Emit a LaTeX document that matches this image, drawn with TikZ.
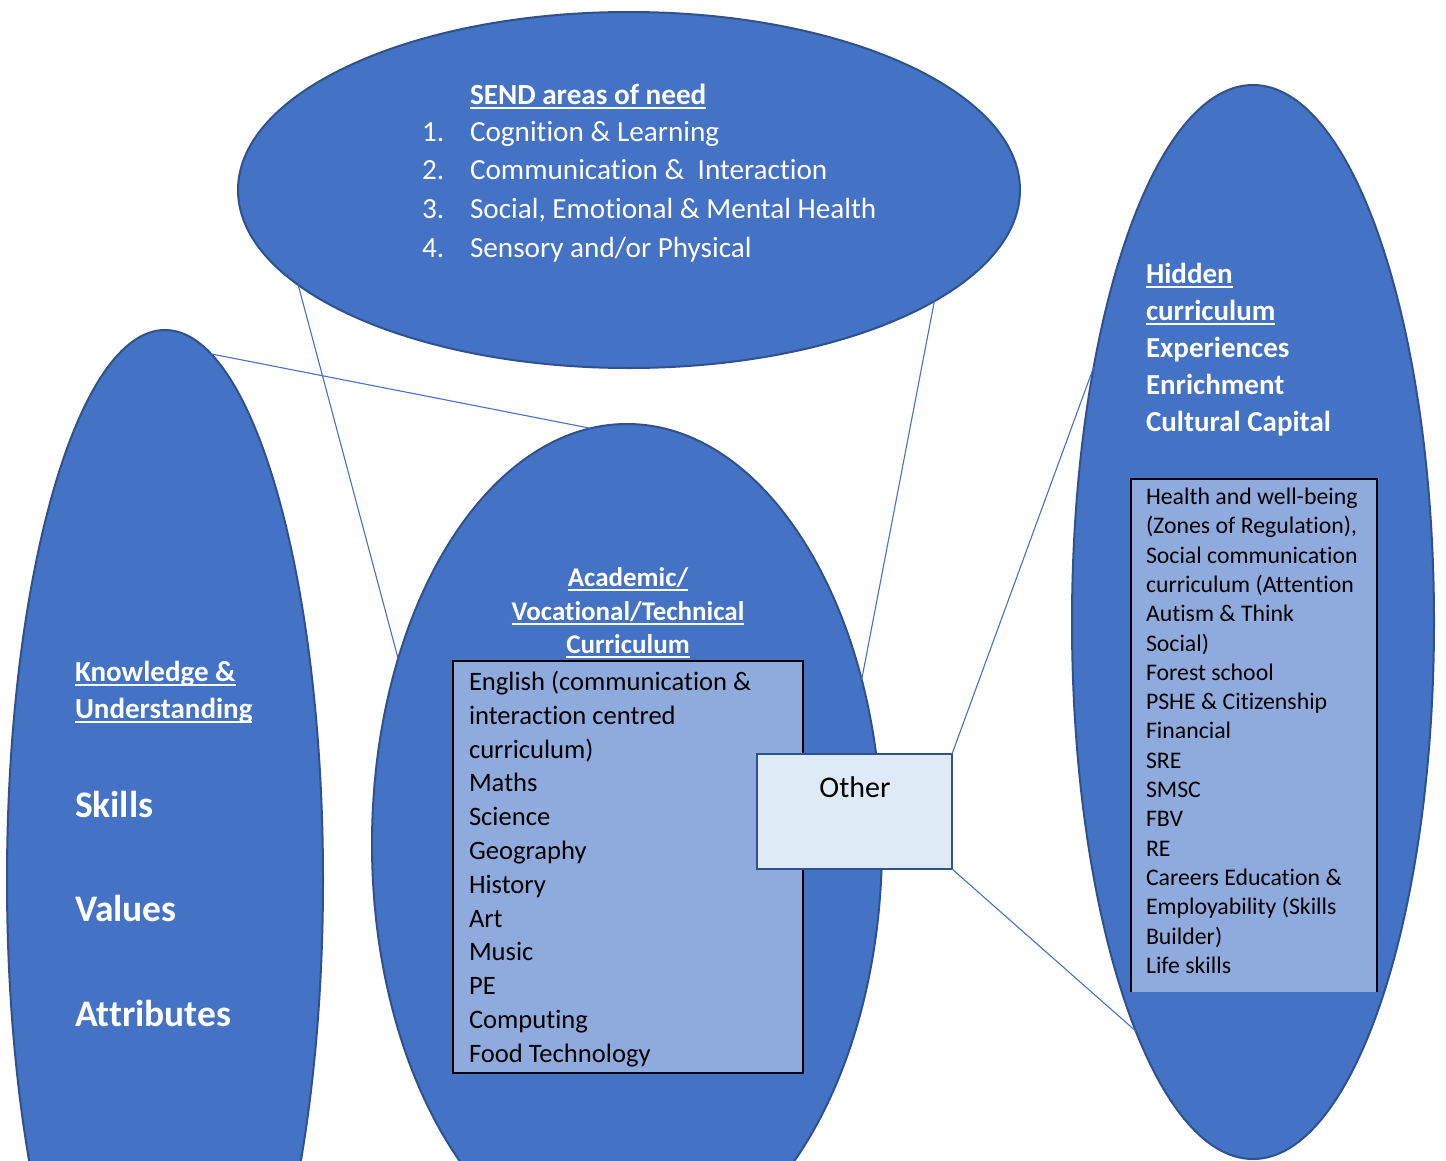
\documentclass[tikz,border=0pt]{standalone}
\usepackage{fontspec}
\setmainfont{Carlito}[Ligatures=NoCommon]
\usetikzlibrary{shapes.geometric}
\definecolor{ellfill}{HTML}{4472C4}
\definecolor{elldraw}{HTML}{2F528F}
\definecolor{boxfill}{HTML}{8FAADC}
\definecolor{otherfill}{HTML}{DEEBF7}
\definecolor{linkcol}{HTML}{4472C4}
\newsavebox\myulbox
\newcommand\myul[1]{\sbox\myulbox{#1}\leavevmode\rlap{\vrule width \wd\myulbox height -3pt depth 4.8pt}\usebox\myulbox}
\newcommand\fs[2]{\fontsize{#1}{#2}\selectfont}
\tikzset{
  ell/.style={ellipse, fill=ellfill, draw=elldraw, line width=2pt, inner sep=0pt, outer sep=0pt},
  listbox/.style={rectangle, fill=boxfill, inner sep=0pt, outer sep=0pt},
  otherbox/.style={rectangle, fill=otherfill, draw=elldraw, line width=2.2pt, inner sep=0pt, outer sep=0pt},
  link/.style={draw=linkcol, line width=1.1pt},
  wtxt/.style={text=white, inner sep=0pt, outer sep=0pt, anchor=base west},
  btxt/.style={text=black, inner sep=0pt, outer sep=0pt, anchor=base west},
}
\begin{document}
\begin{tikzpicture}[x=1pt,y=-1pt]
\clip (0,0) rectangle (1446,1160);
\fill[white] (0,0) rectangle (1446,1160);

% ellipse nodes
\node[ell, minimum width=782pt, minimum height=356pt] (send) at (629,190) {};
\node[ell, minimum width=316pt, minimum height=1100pt] (left) at (165,880) {};
\node[ell, minimum width=510pt, minimum height=840pt] (acad) at (627,844) {};
\node[ell, minimum width=362pt, minimum height=1074pt] (hidden) at (1253,622) {};

% boxes
\node[listbox, minimum width=350pt, minimum height=412pt, draw=black, line width=2pt] (acadbox) at (628,867) {};
\node[listbox, minimum width=246pt, minimum height=513pt] (hidbox) at (1254,735.5) {};
\draw[black, line width=2pt] (hidbox.south west) -- (hidbox.north west) -- (hidbox.north east) -- (hidbox.south east);
\node[otherbox, minimum width=195pt, minimum height=115pt] (other) at (854.5,811.5) {};

% connectors
\draw[link] (send.196.8) -- (acad.141.2);
\draw[link] (send.340.8) -- (acad.35.0);
\draw[link] (left.85.7) -- (acad.95.1);
\draw[link] (other.north east) -- (hidden.122.4);
\draw[link] (other.south east) -- (hidden.254.3);

% SEND text
\node[wtxt, font=\fs{29.2}{35}\bfseries] (sendtitle) at (470,104) {\myul{SEND areas of need}};
\foreach \t [count=\i] in {Cognition \& Learning, Communication \& \ Interaction, {Social, Emotional \& Mental Health}, Sensory and/or Physical}{
  \node[wtxt, font=\fs{29.2}{35}] (sendnum\i) at (422,{141+38.7*(\i-1)}) {\i.};
  \node[wtxt, font=\fs{29.2}{35}] (senditem\i) at (470,{141+38.7*(\i-1)}) {\t};
}

% left text
\node[wtxt, font=\fs{29}{35}\bfseries] (ku1) at (75,681) {\myul{Knowledge \&}};
\node[wtxt, font=\fs{29}{35}\bfseries] (ku2) at (75,718) {\myul{Understanding}};
\node[wtxt, font=\fs{37.5}{44}\bfseries] (skills) at (75,817) {Skills};
\node[wtxt, font=\fs{37.5}{44}\bfseries] (values) at (75,921) {Values};
\node[wtxt, font=\fs{37.5}{44}\bfseries] (attr) at (75,1026) {Attributes};

% academic title
\node[text=white, inner sep=0pt, anchor=base, font=\fs{27}{33}\bfseries] (at1) at (628,586) {\myul{Academic/}};
\node[text=white, inner sep=0pt, anchor=base, font=\fs{27}{33}\bfseries] (at2) at (628,620) {\myul{Vocational/Technical}};
\node[text=white, inner sep=0pt, anchor=base, font=\fs{27}{33}\bfseries] (at3) at (628,653) {\myul{Curriculum}};

% academic list
\foreach \t [count=\i from 0] in {English (communication \&, interaction centred, curriculum), Maths, Science, Geography, History, Art, Music, PE, Computing, Food Technology}{
  \node[btxt, font=\fs{26.6}{33}] (al\i) at (469,{690.5+33.8*\i}) {\t};
}

% other
\node[text=black, inner sep=0pt, anchor=base, font=\fs{30}{36}] (othertxt) at (855,797) {Other};

% hidden title
\node[wtxt, font=\fs{29}{35}\bfseries] (ht1) at (1146,283) {\myul{Hidden}};
\node[wtxt, font=\fs{29}{35}\bfseries] (ht2) at (1146,320) {\myul{curriculum}};
\node[wtxt, font=\fs{29}{35}\bfseries] (ht3) at (1146,357) {Experiences};
\node[wtxt, font=\fs{29}{35}\bfseries] (ht4) at (1146,394) {Enrichment};
\node[wtxt, font=\fs{29}{35}\bfseries] (ht5) at (1146,431) {Cultural Capital};

% hidden list
\foreach \t [count=\i from 0] in {Health and well-being, {(Zones of Regulation),}, Social communication, curriculum (Attention, Autism \& Think, Social), Forest school, PSHE \& Citizenship, Financial, SRE, SMSC, FBV, RE, Careers Education \&, Employability (Skills, Builder), Life skills}{
  \node[btxt, font=\fs{23.8}{29}] (hl\i) at (1146,{504.5+29.31*\i}) {\t};
}
\end{tikzpicture}
\end{document}
